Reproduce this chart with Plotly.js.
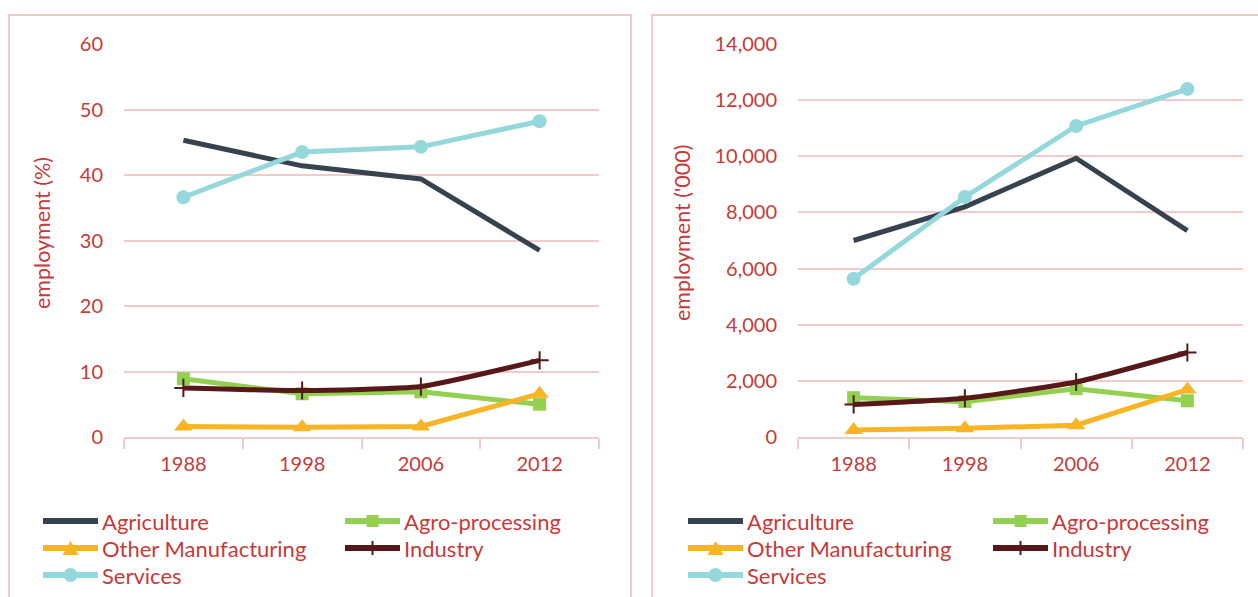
<!DOCTYPE html>
<html>
<head>
<meta charset="utf-8">
<script src="https://cdn.plot.ly/plotly-3.0.1.min.js"></script>
<style>
  html, body { margin:0; padding:0; background:#ffffff; overflow:hidden; }
  body { width:1258px; height:597px; position:relative; }
  .box { position:absolute; border:2px solid #F3C8C8; box-sizing:border-box; }
  .chart { position:absolute; top:0; height:597px; }
</style>
</head>
<body>
<div class="box" style="left:8px; top:14px; width:624px; height:620px;"></div>
<div class="box" style="left:651px; top:14px; width:640px; height:620px;"></div>
<div id="left" class="chart" style="left:0px; width:640px;"></div>
<div id="right" class="chart" style="left:640px; width:618px;"></div>
<script>
// ---------- data ----------
const years = ['1988', '1998', '2006', '2012'];
const seriesNames = ['Agriculture', 'Agro-processing', 'Other Manufacturing', 'Industry', 'Services'];

const pctAgriculture = [45.3, 41.4, 39.4, 28.5];
const pctAgroProcessing = [8.9, 6.6, 6.9, 5.0];
const pctOtherManufacturing = [1.6, 1.5, 1.6, 6.6];
const pctIndustry = [7.5, 7.1, 7.7, 11.7];
const pctServices = [36.6, 43.5, 44.3, 48.2];

const kAgriculture = [7000, 8200, 9930, 7350];
const kAgroProcessing = [1400, 1260, 1720, 1290];
const kOtherManufacturing = [250, 310, 420, 1690];
const kIndustry = [1160, 1380, 1960, 3010];
const kServices = [5640, 8550, 11080, 12400];

const pctTicks = [0, 10, 20, 30, 40, 50, 60];
const kTicks = [0, 2000, 4000, 6000, 8000, 10000, 12000, 14000];
const kTickLabels = ['0', '2,000', '4,000', '6,000', '8,000', '10,000', '12,000', '14,000'];

// ---------- styles ----------
const FONT = 'Lato, "Open Sans", "Noto Sans", sans-serif';
const RED = '#C63A3A';
const GRID = '#F3CACA';
const styles = [
  {color:'#37424F', symbol:null, size:0, shape:'linear'},
  {color:'#92D050', symbol:'square', size:13, shape:'linear'},
  {color:'#F7B526', symbol:'triangle-up', size:16, shape:'linear'},
  {color:'#561818', symbol:'cross-thin', size:13, shape:'spline'},
  {color:'#95D8DB', symbol:'circle', size:14, shape:'linear'}
];

function makeTraces(valueSets) {
  return valueSets.map((vals, i) => {
    const s = styles[i];
    const t = {
      type:'scatter', x:years, y:vals, name:seriesNames[i],
      mode: s.symbol ? 'lines+markers' : 'lines',
      line:{color:s.color, width:5, shape:s.shape, smoothing:0.5},
      showlegend:false, hoverinfo:'skip'
    };
    if (s.symbol) {
      t.marker = {symbol:s.symbol, size:s.size, color:s.color,
                  line:{color:s.color, width: s.symbol === 'cross-thin' ? 2 : 0}};
    }
    return t;
  });
}

function build(divId, W, m, valueSets, yRange, yTicks, yTickText, yTitle, legCols, titleX) {
  const H = 597;
  const pw = W - m.l - m.r, ph = H - m.t - m.b;
  const px = x => (x - m.l) / pw;
  const py = y => (m.t + ph - y) / ph;
  const shapes = [], annotations = [];
  const legRows = [521, 548, 575];
  seriesNames.forEach((nm, i) => {
    const col = i % 2, row = Math.floor(i / 2);
    const x0 = legCols[col], x1 = x0 + 55, y = legRows[row];
    const s = styles[i];
    shapes.push({type:'line', xref:'paper', yref:'paper', x0:px(x0), x1:px(x1), y0:py(y), y1:py(y),
                 line:{color:s.color, width:6}});
    const cx = (x0 + x1) / 2;
    if (s.symbol === 'square') {
      shapes.push({type:'rect', xref:'paper', yref:'paper', x0:px(cx-6), x1:px(cx+6), y0:py(y+6), y1:py(y-6),
                   fillcolor:s.color, line:{width:0}});
    } else if (s.symbol === 'circle') {
      shapes.push({type:'circle', xref:'paper', yref:'paper', x0:px(cx-7), x1:px(cx+7), y0:py(y+7), y1:py(y-7),
                   fillcolor:s.color, line:{width:0}});
    } else if (s.symbol === 'triangle-up') {
      const path = 'M' + px(cx-8) + ',' + py(y+7) + ' L' + px(cx+8) + ',' + py(y+7) + ' L' + px(cx) + ',' + py(y-7) + ' Z';
      shapes.push({type:'path', xref:'paper', yref:'paper', path:path, fillcolor:s.color, line:{width:0}});
    } else if (s.symbol === 'cross-thin') {
      shapes.push({type:'line', xref:'paper', yref:'paper', x0:px(cx), x1:px(cx), y0:py(y-7), y1:py(y+7),
                   line:{color:s.color, width:2}});
    }
    annotations.push({xref:'paper', yref:'paper', x:px(x1 + 2), y:py(y), xanchor:'left', yanchor:'middle',
                      text:nm, showarrow:false, font:{family:FONT, size:22, color:RED}});
  });
  annotations.push({xref:'paper', yref:'paper', x:px(titleX), y:py(233), xanchor:'center', yanchor:'middle',
                    text:yTitle, textangle:-90, showarrow:false, font:{family:FONT, size:21.5, color:RED}});

  const layout = {
    width:W, height:H, margin:m,
    paper_bgcolor:'rgba(0,0,0,0)', plot_bgcolor:'rgba(0,0,0,0)',
    showlegend:false,
    font:{family:FONT, size:20, color:RED},
    xaxis:{type:'category', range:[-0.5, 3.5], tickson:'boundaries', ticks:'outside', ticklen:10,
           tickcolor:GRID, tickwidth:2, showline:true, linecolor:GRID, linewidth:2, showgrid:false,
           ticklabelstandoff:8, tickfont:{family:FONT, size:20, color:RED}, fixedrange:true},
    yaxis:{range:yRange, tickvals:yTicks, ticktext:yTickText, showgrid:true, gridcolor:GRID, gridwidth:2,
           zeroline:false, showline:false, ticks:'', ticklabelstandoff:20,
           tickfont:{family:FONT, size:20, color:RED}, fixedrange:true},
    shapes:shapes, annotations:annotations
  };
  Plotly.newPlot(divId, makeTraces(valueSets), layout, {staticPlot:true, displayModeBar:false});
}

build('left', 640, {l:124, r:41, t:44, b:160},
  [pctAgriculture, pctAgroProcessing, pctOtherManufacturing, pctIndustry, pctServices],
  [0, 60], pctTicks, pctTicks.map(String), 'employment (%)', [43, 345], 42);

build('right', 618, {l:158, r:15, t:44, b:160},
  [kAgriculture, kAgroProcessing, kOtherManufacturing, kIndustry, kServices],
  [0, 14000], kTicks, kTickLabels, "employment ('000)", [48, 353], 42);
</script>
</body>
</html>
